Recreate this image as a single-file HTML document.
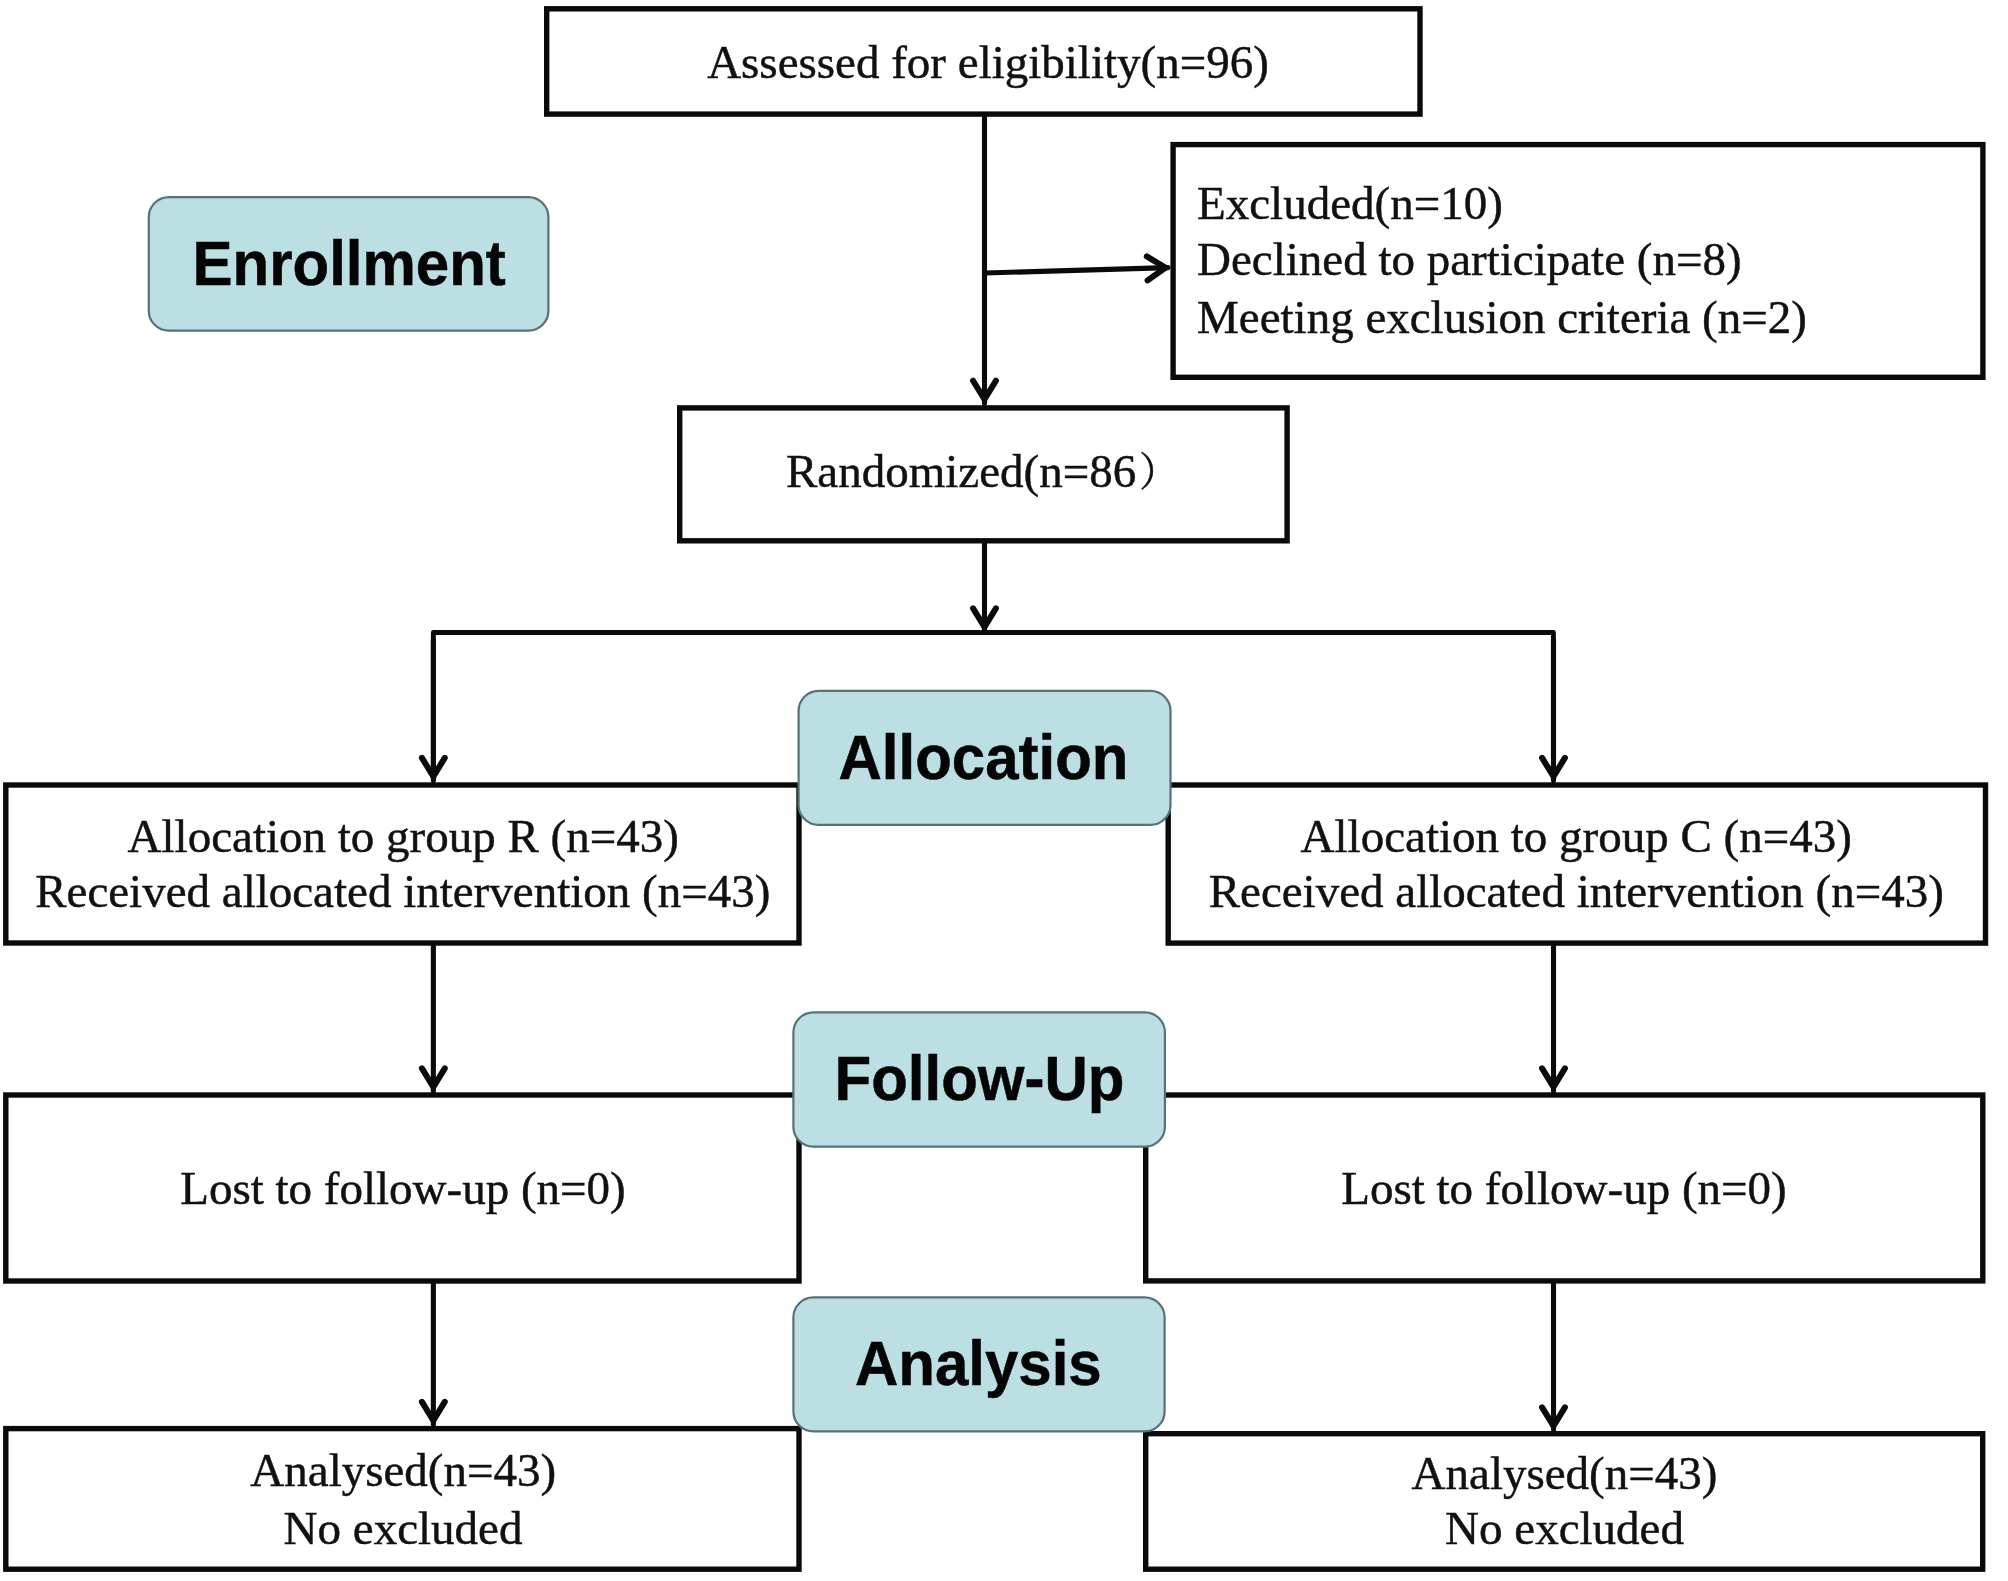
<!DOCTYPE html>
<html lang="en"><head><meta charset="utf-8"><title>CONSORT flow diagram</title>
<style>
html,body{margin:0;padding:0;background:#fff;}
body{width:2008px;height:1581px;overflow:hidden;}
svg{display:block;will-change:transform;}
.bx{fill:#fff;stroke:#0a0a0a;stroke-width:5.4;}
.ln{fill:none;stroke:#0a0a0a;stroke-width:5.1;stroke-linecap:round;stroke-linejoin:miter;}
.lb{fill:#bcdfe4;stroke:#577273;stroke-width:2.2;}
.t{font-family:"Liberation Serif","Noto Serif CJK SC",serif;font-size:47px;fill:#111;stroke:#111;stroke-width:0.45px;}
.h{font-family:"Liberation Sans",sans-serif;font-weight:bold;font-size:60px;fill:#050505;stroke:#050505;stroke-width:0.5px;text-anchor:middle;}
</style></head><body>
<svg width="2008" height="1581" viewBox="0 0 2008 1581">
<rect x="0" y="0" width="2008" height="1581" fill="#fff"/>

<g class="ln">
<line x1="984.5" y1="116" x2="984.5" y2="403.3"/><polyline stroke-width="6" points="973.1,380.7 984.5,399.3 995.9,380.7"/>
<line x1="984.5" y1="543" x2="984.5" y2="631"/><polyline stroke-width="6" points="973.1,608.4 984.5,627 995.9,608.4"/>
<polyline stroke-linejoin="round" stroke-width="4.9" points="433.35,770 433.35,632.55 1553.4,632.55 1553.4,770"/>
<line x1="433.35" y1="640" x2="433.35" y2="780.5"/><polyline stroke-width="6" points="421.95,757.9 433.35,776.5 444.75,757.9"/>
<line x1="1553.5" y1="640" x2="1553.5" y2="780.5"/><polyline stroke-width="6" points="1542.1,757.9 1553.5,776.5 1564.9,757.9"/>
<line x1="433.35" y1="945" x2="433.35" y2="1091"/><polyline stroke-width="6" points="421.95,1068.4 433.35,1087 444.75,1068.4"/>
<line x1="1553.5" y1="945" x2="1553.5" y2="1091"/><polyline stroke-width="6" points="1542.1,1068.4 1553.5,1087 1564.9,1068.4"/>
<line x1="433.35" y1="1283" x2="433.35" y2="1424.5"/><polyline stroke-width="6" points="421.95,1401.9 433.35,1420.5 444.75,1401.9"/>
<line x1="1553.5" y1="1283" x2="1553.5" y2="1430"/><polyline stroke-width="6" points="1542.1,1407.4 1553.5,1426 1564.9,1407.4"/>
<line x1="985" y1="273" x2="1168" y2="267.6"/>
<polyline stroke-width="6" points="1146.8,256.4 1165.5,267.6 1147.6,280.4"/>
</g>
<rect class="bx" x="546.7" y="8.8" width="873.3" height="105.3"/>
<rect class="bx" x="1173.1" y="144.6" width="809.8" height="232.7"/>
<rect class="bx" x="679.7" y="407.9" width="607.4" height="132.9"/>
<rect class="bx" x="5.8" y="785.0" width="793.2" height="158"/>
<rect class="bx" x="1168.2" y="785.0" width="817.3" height="158.1"/>
<rect class="bx" x="5.8" y="1095.0" width="793.2" height="186"/>
<rect class="bx" x="1145.7" y="1095.0" width="837.1" height="185.9"/>
<rect class="bx" x="5.8" y="1428.6" width="793.2" height="140.6"/>
<rect class="bx" x="1145.7" y="1433.7" width="837" height="135.5"/>
<rect class="lb" x="148.8" y="197.1" width="399.6" height="133.6" rx="20" ry="20"/>
<text class="h" transform="translate(349.2,284.9) scale(1,1.05)" x="0" y="0">Enrollment</text>
<rect class="lb" x="798.6" y="690.8" width="371.9" height="134.1" rx="20" ry="20"/>
<text class="h" transform="translate(983.5,778.85) scale(1,1.05)" x="0" y="0">Allocation</text>
<rect class="lb" x="793.4" y="1012.35" width="371.5" height="134.35" rx="20" ry="20"/>
<text class="h" transform="translate(979.5,1100.0) scale(1,1.05)" x="0" y="0">Follow-Up</text>
<rect class="lb" x="793.4" y="1297.4" width="371.2" height="134" rx="20" ry="20"/>
<text class="h" transform="translate(978.3,1385.4) scale(1,1.05)" x="0" y="0">Analysis</text>
<text class="t" x="988" y="78" text-anchor="middle">Assessed for eligibility(n=96)</text>
<text class="t" x="1197" y="219" text-anchor="start">Excluded(n=10)</text>
<text class="t" x="1197" y="275" text-anchor="start">Declined to participate (n=8)</text>
<text class="t" x="1197" y="332.5" text-anchor="start">Meeting exclusion criteria (n=2)</text>
<text class="t" x="403.25" y="851.5" text-anchor="middle">Allocation to group R (n=43)</text>
<text class="t" x="402.75" y="907" text-anchor="middle">Received allocated intervention (n=43)</text>
<text class="t" x="1576.25" y="851.5" text-anchor="middle">Allocation to group C (n=43)</text>
<text class="t" x="1576.25" y="907" text-anchor="middle">Received allocated intervention (n=43)</text>
<text class="t" x="403" y="1203.5" text-anchor="middle">Lost to follow-up (n=0)</text>
<text class="t" x="1564" y="1203.5" text-anchor="middle">Lost to follow-up (n=0)</text>
<text class="t" x="403.25" y="1486" text-anchor="middle">Analysed(n=43)</text>
<text class="t" x="403" y="1543.5" text-anchor="middle">No excluded</text>
<text class="t" x="1564.5" y="1488.6" text-anchor="middle">Analysed(n=43)</text>
<text class="t" x="1564.5" y="1543.5" text-anchor="middle">No excluded</text>
<text class="t" x="786" y="486.8">Randomized(n=86<tspan x="1139" dy="-0.5" font-size="40">）</tspan></text>
</svg></body></html>
